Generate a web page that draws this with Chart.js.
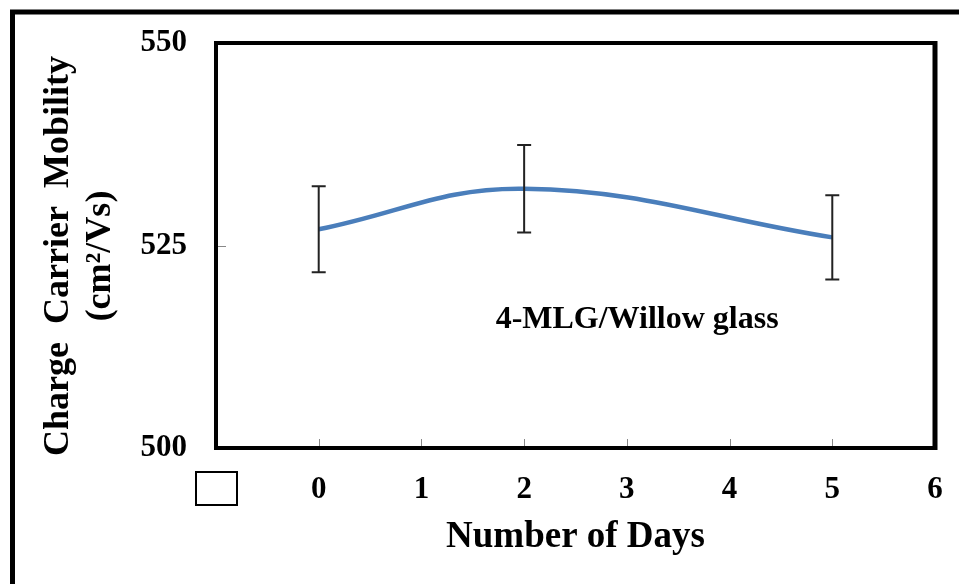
<!DOCTYPE html>
<html>
<head>
<meta charset="utf-8">
<script src="https://cdn.jsdelivr.net/npm/chart.js@4.4.0/dist/chart.umd.min.js"></script>
<style>
  html, body { margin: 0; padding: 0; background: #fff; }
  #wrap { position: relative; width: 959px; height: 584px; }
</style>
</head>
<body>
<div id="wrap"><canvas id="mobilityChart"></canvas></div>
<script>
// measured mobility vs storage time
const days = [0, 2, 5];
const mobility = [527, 532, 526];
const mobilityErr = [5.3, 5.4, 5.2];

const xTicks = [-1, 0, 1, 2, 3, 4, 5, 6];
const yTicks = [500, 525, 550];

const sampleLabel = '4-MLG/Willow glass';
const sampleLabelAt = [3.1, 515.8];
const xTitle = 'Number of Days';
const yTitle = ['Charge  Carrier  Mobility', '(cm²/Vs)'];

const serif = "'Liberation Serif', 'Times New Roman', serif";

const decorations = {
  id: 'decorations',
  afterDatasetsDraw(chart) {
    const ctx = chart.ctx;
    const xs = chart.scales.x;
    const ys = chart.scales.y;
    // error bars with caps
    ctx.save();
    ctx.strokeStyle = '#222';
    ctx.lineWidth = 2;
    days.forEach((d, i) => {
      const px = xs.getPixelForValue(d);
      const top = ys.getPixelForValue(mobility[i] + mobilityErr[i]);
      const bot = ys.getPixelForValue(mobility[i] - mobilityErr[i]);
      ctx.beginPath();
      ctx.moveTo(px, top); ctx.lineTo(px, bot);
      ctx.moveTo(px - 7, top); ctx.lineTo(px + 7, top);
      ctx.moveTo(px - 7, bot); ctx.lineTo(px + 7, bot);
      ctx.stroke();
    });
    ctx.restore();
  },
  afterDraw(chart) {
    const ctx = chart.ctx;
    const a = chart.chartArea;
    const xs = chart.scales.x;
    const ys = chart.scales.y;
    ctx.save();

    // small inward tick marks
    ctx.strokeStyle = '#888';
    ctx.lineWidth = 1;
    ctx.beginPath();
    xs.ticks.forEach(t => {
      if (t.value <= xs.min || t.value >= xs.max) return;
      const px = Math.round(xs.getPixelForValue(t.value)) + 0.5;
      ctx.moveTo(px, a.bottom); ctx.lineTo(px, a.bottom - 9);
    });
    ys.ticks.forEach(t => {
      if (t.value <= ys.min || t.value >= ys.max) return;
      const py = Math.round(ys.getPixelForValue(t.value)) + 0.5;
      ctx.moveTo(a.left, py); ctx.lineTo(a.left + 10, py);
    });
    ctx.stroke();

    // plot frame
    ctx.strokeStyle = '#000';
    ctx.lineWidth = 4;
    ctx.beginPath();
    ctx.moveTo(a.right, a.top);
    ctx.lineTo(a.left, a.top);
    ctx.lineTo(a.left, a.bottom);
    ctx.lineTo(a.right, a.bottom);
    ctx.stroke();
    ctx.lineWidth = 5;
    ctx.beginPath();
    ctx.moveTo(a.right, a.top - 2);
    ctx.lineTo(a.right, a.bottom + 2);
    ctx.stroke();

    // outer figure frame (top and left edges)
    ctx.lineWidth = 5;
    ctx.beginPath();
    ctx.moveTo(959, 12);
    ctx.lineTo(12.5, 12);
    ctx.lineTo(12.5, 584);
    ctx.stroke();

    // empty key box under the first x position
    const bx = xs.getPixelForValue(xs.min);
    ctx.lineWidth = 2;
    ctx.strokeRect(bx - 20, 472, 41, 33);

    // sample label
    ctx.fillStyle = '#000';
    ctx.font = 'bold 32px ' + serif;
    ctx.textAlign = 'center';
    ctx.textBaseline = 'middle';
    ctx.fillText(sampleLabel, xs.getPixelForValue(sampleLabelAt[0]), ys.getPixelForValue(sampleLabelAt[1]));

    // rotated y title, two lines
    ctx.font = 'bold 36px ' + serif;
    ctx.translate(59, 256);
    ctx.rotate(-Math.PI / 2);
    yTitle.forEach((line, i) => ctx.fillText(line, 0, i * 42));
    ctx.restore();
  }
};

new Chart(document.getElementById('mobilityChart'), {
  type: 'line',
  data: {
    datasets: [{
      data: days.map((d, i) => ({ x: d, y: mobility[i] })),
      borderColor: '#4a7ebb',
      borderWidth: 4.5,
      pointRadius: 0,
      tension: 0.4,
      fill: false
    }]
  },
  options: {
    responsive: true,
    maintainAspectRatio: false,
    animation: false,
    layout: { padding: { top: 43, right: 24, left: 0, bottom: 0 } },
    plugins: { legend: { display: false }, tooltip: { enabled: false } },
    scales: {
      x: {
        type: 'linear',
        min: -1,
        max: 6,
        afterBuildTicks: s => { s.ticks = xTicks.map(v => ({ value: v })); },
        afterFit: s => { s.height = 136; s.paddingLeft = 0; s.paddingRight = 0; },
        grid: { display: false },
        border: { display: false },
        ticks: {
          color: '#000',
          padding: 15,
          font: { family: serif, size: 31, weight: 'bold' },
          callback: v => (v === -1 ? '' : v)
        },
        title: {
          display: true,
          text: xTitle,
          color: '#000',
          font: { family: serif, size: 37, weight: 'bold' },
          padding: { top: 0, bottom: 24 }
        }
      },
      y: {
        min: 500,
        max: 550,
        afterBuildTicks: s => { s.ticks = yTicks.map(v => ({ value: v })); },
        afterFit: s => { s.width = 216; s.paddingTop = 0; s.paddingBottom = 0; },
        grid: { display: false },
        border: { display: false },
        ticks: {
          color: '#000',
          padding: 21,
          font: { family: serif, size: 31, weight: 'bold' }
        }
      }
    }
  },
  plugins: [decorations]
});
</script>
</body>
</html>
